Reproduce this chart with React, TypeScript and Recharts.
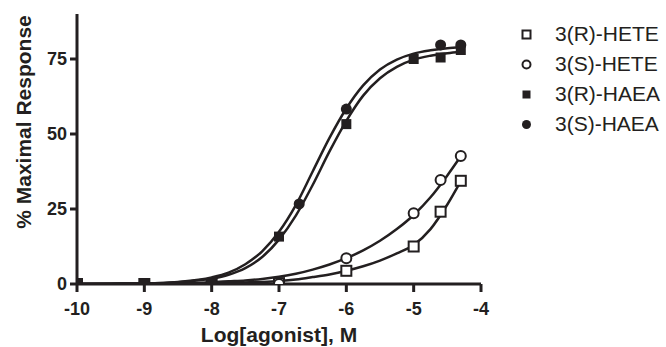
import React from "react";
import { ComposedChart, Line, Scatter, XAxis, YAxis } from "recharts";

const INK = "#231f20";
const FONT = '"Liberation Sans", Arial, sans-serif';

const X_TICKS = [-10, -9, -8, -7, -6, -5, -4];
const Y_TICKS = [0, 25, 50, 75];

const SERIES_NAMES = ["3(R)-HETE", "3(S)-HETE", "3(R)-HAEA", "3(S)-HAEA"];

// measured points
const rHeteX = [-10, -9, -8, -7, -6, -5, -4.6, -4.3];
const rHeteY = [0, 0, 0, 0.3, 4.4, 12.5, 24.1, 34.4];
const sHeteX = [-10, -9, -8, -7, -6, -5, -4.6, -4.3];
const sHeteY = [0, 0, 0, 0, 8.6, 23.6, 34.7, 42.7];
const rHaeaX = [-10, -9, -8, -7, -6, -5, -4.6, -4.3];
const rHaeaY = [0, 0, 0, 15.8, 53.3, 75.0, 75.5, 78.0];
const sHaeaX = [-10, -9, -8, -6.7, -6, -4.6, -4.3];
const sHaeaY = [0, 0, 0, 26.7, 58.3, 79.7, 79.7];

// fitted curves
const curveX = [-10, -9.5, -9, -8.5, -8, -7.75, -7.5, -7.25, -7, -6.75, -6.5, -6.25, -6, -5.75, -5.5, -5.25, -5, -4.75, -4.5, -4.3];
const rHeteCurve = [0, 0, 0, 0.1, 0.2, 0.3, 0.5, 0.7, 1.0, 1.5, 2.3, 3.2, 4.4, 5.9, 7.8, 10.2, 13.0, 18.3, 26.5, 34.3];
const sHeteCurve = [0, 0, 0.1, 0.3, 0.6, 0.9, 1.2, 1.7, 2.4, 3.4, 4.8, 6.5, 8.6, 11.2, 14.4, 18.3, 23.0, 28.9, 36.2, 42.6];
const rHaeaCurve = [0, 0.1, 0.2, 0.6, 1.8, 3.1, 5.3, 9.0, 14.8, 22.8, 33.0, 44.2, 54.4, 62.8, 68.6, 72.4, 74.8, 76.1, 76.9, 77.4];
const sHaeaCurve = [0, 0.1, 0.2, 0.7, 2.2, 3.8, 6.6, 10.9, 17.4, 26.3, 37.5, 48.7, 58.5, 66.2, 71.5, 74.8, 76.8, 77.9, 78.6, 78.9];

const zip = (xs: number[], ys: number[]) => xs.map((x, i) => ({ x, y: ys[i] }));

const OpenSquare = (p: any) => (
  <rect x={p.cx - 5} y={p.cy - 5} width={10} height={10} fill="#fff" stroke={INK} strokeWidth={2} />
);
const OpenCircle = (p: any) => (
  <circle cx={p.cx} cy={p.cy} r={5} fill="#fff" stroke={INK} strokeWidth={2} />
);
const FilledSquare = (p: any) => (
  <rect x={p.cx - 5} y={p.cy - 5} width={10} height={10} fill={INK} stroke="none" />
);
const FilledCircle = (p: any) => <circle cx={p.cx} cy={p.cy} r={5.5} fill={INK} stroke="none" />;

const legendIcons = [
  <rect x={1.5} y={1.5} width={8} height={8} fill="#fff" stroke={INK} strokeWidth={2} />,
  <circle cx={5.5} cy={5.5} r={4} fill="#fff" stroke={INK} strokeWidth={2} />,
  <rect x={1.5} y={1.5} width={8} height={8} fill={INK} />,
  <circle cx={5.5} cy={5.5} r={4.5} fill={INK} />,
];

const YLabel = () => (
  <text
    x={23}
    y={122}
    transform="rotate(-90 23 122)"
    textAnchor="middle"
    dominantBaseline="central"
    fontFamily={FONT}
    fontWeight="bold"
    fontSize={21}
    fill={INK}
  >
    % Maximal Response
  </text>
);

export default function App() {
  const tickStyle = { fontSize: 18, fontWeight: "bold", fill: INK, fontFamily: FONT };
  return (
    <div style={{ position: "absolute", left: 0, top: 0, width: 666, height: 347, background: "#fff" }}>
      <ComposedChart width={666} height={347} margin={{ top: 14, right: 185, bottom: 0, left: 0 }}>
        <XAxis
          type="number"
          dataKey="x"
          domain={[-10, -4]}
          ticks={X_TICKS}
          allowDataOverflow
          height={63}
          tickSize={8}
          tickMargin={10}
          axisLine={{ stroke: INK, strokeWidth: 3 }}
          tickLine={{ stroke: INK, strokeWidth: 3 }}
          tick={tickStyle}
          label={{
            value: "Log[agonist], M",
            position: "insideBottom",
            offset: 5,
            style: { fontSize: 21, fontWeight: "bold", fill: INK, fontFamily: FONT },
          }}
        />
        <YAxis
          type="number"
          dataKey="y"
          domain={[0, 90]}
          ticks={Y_TICKS}
          allowDataOverflow
          width={77}
          tickSize={7}
          tickMargin={3}
          axisLine={{ stroke: INK, strokeWidth: 3 }}
          tickLine={{ stroke: INK, strokeWidth: 3 }}
          tick={tickStyle}
          label={{ content: () => <YLabel /> }}
        />
        <Line data={zip(curveX, rHeteCurve)} dataKey="y" type="monotone" stroke={INK} strokeWidth={2.5} dot={false} isAnimationActive={false} />
        <Line data={zip(curveX, sHeteCurve)} dataKey="y" type="monotone" stroke={INK} strokeWidth={2.5} dot={false} isAnimationActive={false} />
        <Line data={zip(curveX, rHaeaCurve)} dataKey="y" type="monotone" stroke={INK} strokeWidth={2.5} dot={false} isAnimationActive={false} />
        <Line data={zip(curveX, sHaeaCurve)} dataKey="y" type="monotone" stroke={INK} strokeWidth={2.5} dot={false} isAnimationActive={false} />
        <Scatter name={SERIES_NAMES[0]} data={zip(rHeteX, rHeteY)} shape={OpenSquare} isAnimationActive={false} />
        <Scatter name={SERIES_NAMES[1]} data={zip(sHeteX, sHeteY)} shape={OpenCircle} isAnimationActive={false} />
        <Scatter name={SERIES_NAMES[2]} data={zip(rHaeaX, rHaeaY)} shape={FilledSquare} isAnimationActive={false} />
        <Scatter name={SERIES_NAMES[3]} data={zip(sHaeaX, sHaeaY)} shape={FilledCircle} isAnimationActive={false} />
      </ComposedChart>
      <div style={{ position: "absolute", left: 521, top: 19, fontFamily: FONT, fontSize: 21, color: INK }}>
        {SERIES_NAMES.map((name, i) => (
          <div key={name} style={{ display: "flex", alignItems: "center", height: 30, lineHeight: "30px" }}>
            <svg width={11} height={11} style={{ marginRight: 23 }}>
              {legendIcons[i]}
            </svg>
            <span>{name}</span>
          </div>
        ))}
      </div>
    </div>
  );
}
